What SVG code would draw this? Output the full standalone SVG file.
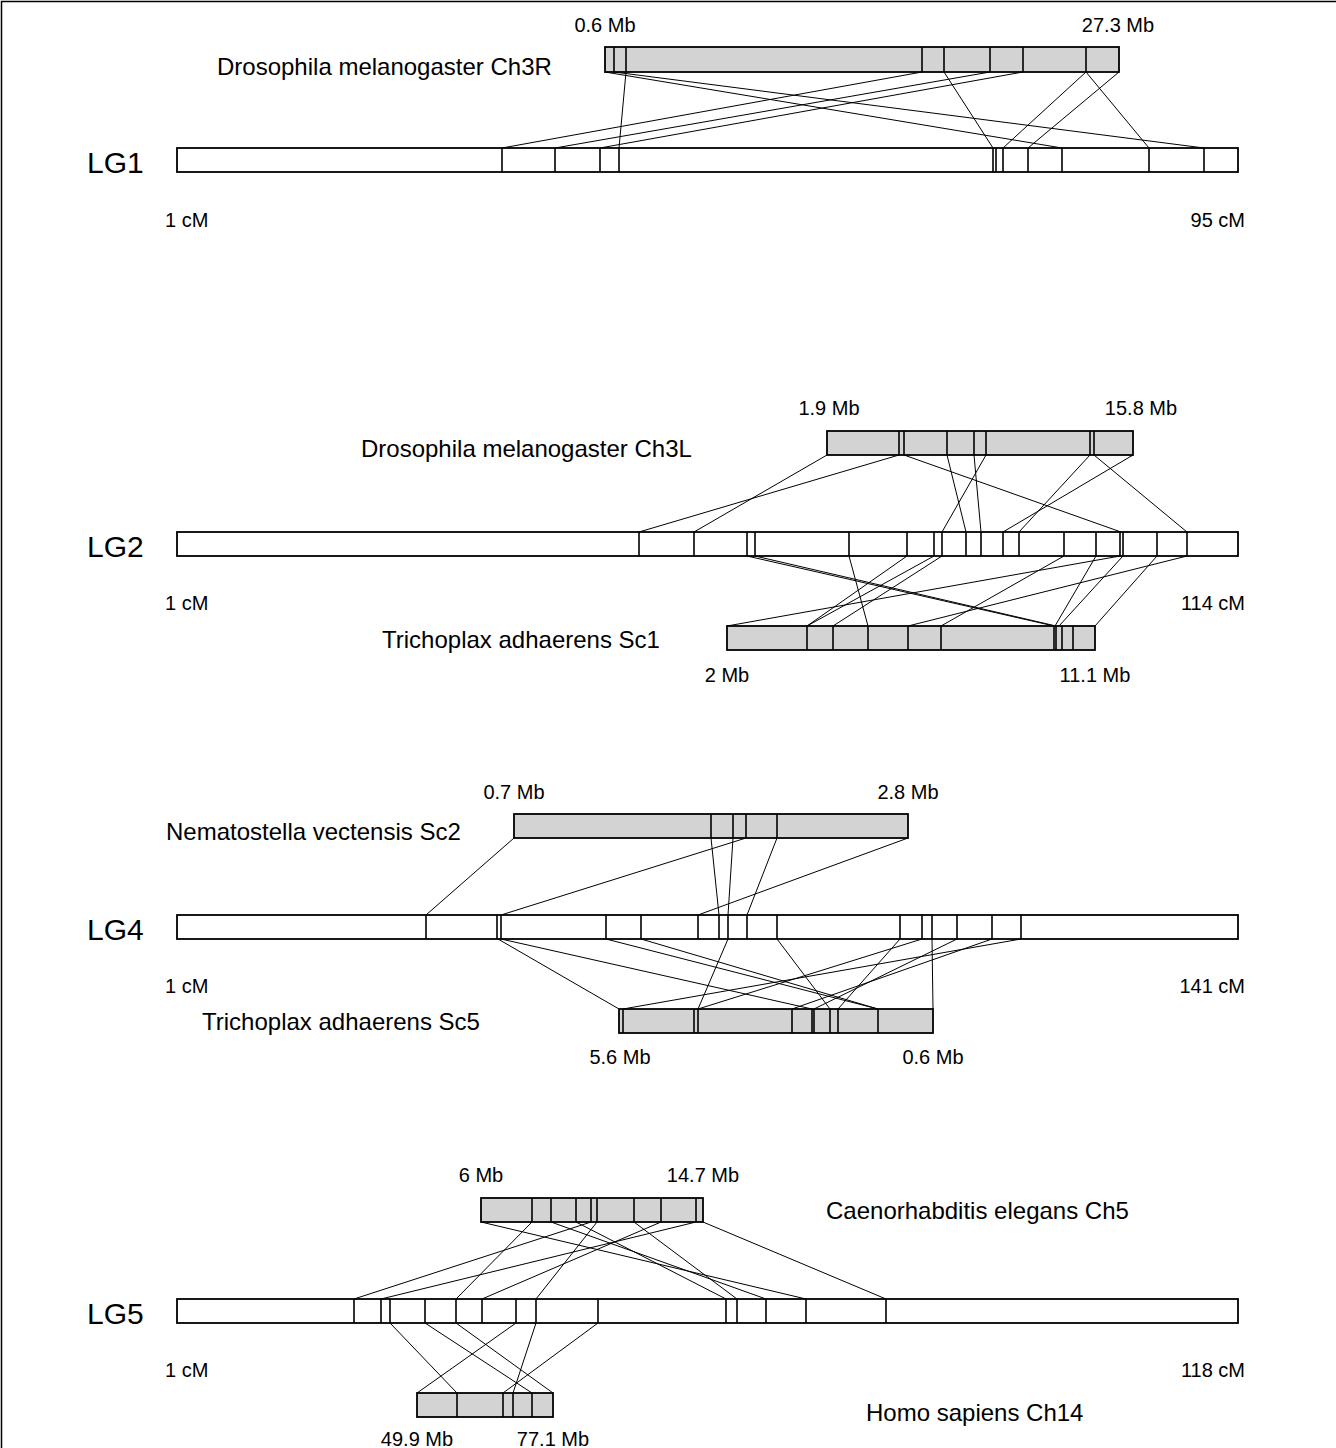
<svg xmlns="http://www.w3.org/2000/svg" width="1336" height="1448" viewBox="0 0 1336 1448">
<style>
.wb{fill:#fff;stroke:#000;stroke-width:1.8}
.gb{fill:#d3d3d3;stroke:#000;stroke-width:1.8}
.dv{stroke:#000;stroke-width:1.6;fill:none}
.cn{stroke:#000;stroke-width:1;fill:none}
.t{font-family:"Liberation Sans",Arial,sans-serif;fill:#000}
.sp{font-size:24px}
.mb{font-size:20px}
.lg{font-size:30px}
</style>
<rect x="0" y="0" width="1336" height="1448" fill="#fff"/>
<path d="M1.5,1448 V1.5 H1336" stroke="#000" stroke-width="1.5" fill="none"/>

<!-- LG1 section -->
<g id="ch3r">
<rect class="gb" x="605" y="47" width="514" height="25"/>
<path class="dv" d="M614,47V72M626,47V72M922,47V72M944,47V72M990,47V72M1023,47V72M1086,47V72"/>
<text class="t sp" x="217" y="75">Drosophila melanogaster Ch3R</text>
<text class="t mb" x="605" y="32" text-anchor="middle">0.6 Mb</text>
<text class="t mb" x="1118" y="32" text-anchor="middle">27.3 Mb</text>
</g>
<g id="lg1">
<rect class="wb" x="177" y="148" width="1061" height="24"/>
<path class="dv" d="M502,148V172M555,148V172M600,148V172M619,148V172M993,148V172M996,148V172M1003,148V172M1028,148V172M1062,148V172M1149,148V172M1204,148V172"/>
<text class="t lg" x="87" y="173">LG1</text>
<text class="t mb" x="165" y="227">1 cM</text>
<text class="t mb" x="1245" y="227" text-anchor="end">95 cM</text>
</g>

<!-- LG2 section -->
<g id="ch3l">
<rect class="gb" x="827" y="431" width="306" height="24"/>
<path class="dv" d="M899,431V455M904,431V455M947,431V455M974,431V455M986,431V455M1090,431V455M1094,431V455"/>
<text class="t sp" x="361" y="457">Drosophila melanogaster Ch3L</text>
<text class="t mb" x="829" y="415" text-anchor="middle">1.9 Mb</text>
<text class="t mb" x="1141" y="415" text-anchor="middle">15.8 Mb</text>
</g>
<g id="lg2">
<rect class="wb" x="177" y="532" width="1061" height="24"/>
<path class="dv" d="M639,532V556M694,532V556M747,532V556M755,532V556M849,532V556M907,532V556M934,532V556M942,532V556M966,532V556M981,532V556M1003,532V556M1019,532V556M1064,532V556M1096,532V556M1120,532V556M1123,532V556M1157,532V556M1187,532V556"/>
<text class="t lg" x="87" y="557">LG2</text>
<text class="t mb" x="165" y="610">1 cM</text>
<text class="t mb" x="1245" y="610" text-anchor="end">114 cM</text>
</g>
<g id="sc1">
<rect class="gb" x="727" y="626" width="368" height="24"/>
<path class="dv" d="M807,626V650M833,626V650M868,626V650M908,626V650M941,626V650M1054,626V650M1056,626V650M1062,626V650M1073,626V650"/>
<text class="t sp" x="382" y="648">Trichoplax adhaerens Sc1</text>
<text class="t mb" x="727" y="682" text-anchor="middle">2 Mb</text>
<text class="t mb" x="1095" y="682" text-anchor="middle">11.1 Mb</text>
</g>

<!-- LG4 section -->
<g id="sc2">
<rect class="gb" x="514" y="814" width="394" height="24"/>
<path class="dv" d="M711,814V838M733,814V838M746,814V838M777,814V838"/>
<text class="t sp" x="166" y="840">Nematostella vectensis Sc2</text>
<text class="t mb" x="514" y="799" text-anchor="middle">0.7 Mb</text>
<text class="t mb" x="908" y="799" text-anchor="middle">2.8 Mb</text>
</g>
<g id="lg4">
<rect class="wb" x="177" y="915" width="1061" height="24"/>
<path class="dv" d="M426,915V939M497,915V939M501,915V939M606,915V939M641,915V939M698,915V939M719,915V939M728,915V939M747,915V939M777,915V939M900,915V939M922,915V939M932,915V939M957,915V939M992,915V939M1021,915V939"/>
<text class="t lg" x="87" y="940">LG4</text>
<text class="t mb" x="165" y="993">1 cM</text>
<text class="t mb" x="1245" y="993" text-anchor="end">141 cM</text>
</g>
<g id="sc5">
<rect class="gb" x="619" y="1009" width="314" height="24"/>
<path class="dv" d="M623,1009V1033M694,1009V1033M698,1009V1033M792,1009V1033M812,1009V1033M814,1009V1033M830,1009V1033M838,1009V1033M878,1009V1033"/>
<text class="t sp" x="202" y="1030">Trichoplax adhaerens Sc5</text>
<text class="t mb" x="620" y="1064" text-anchor="middle">5.6 Mb</text>
<text class="t mb" x="933" y="1064" text-anchor="middle">0.6 Mb</text>
</g>

<!-- LG5 section -->
<g id="ch5">
<rect class="gb" x="481" y="1198" width="222" height="24"/>
<path class="dv" d="M532,1198V1222M551,1198V1222M576,1198V1222M591,1198V1222M597,1198V1222M634,1198V1222M661,1198V1222M696,1198V1222"/>
<text class="t sp" x="826" y="1219">Caenorhabditis elegans Ch5</text>
<text class="t mb" x="481" y="1182" text-anchor="middle">6 Mb</text>
<text class="t mb" x="703" y="1182" text-anchor="middle">14.7 Mb</text>
</g>
<g id="lg5">
<rect class="wb" x="177" y="1299" width="1061" height="24"/>
<path class="dv" d="M354,1299V1323M381,1299V1323M390,1299V1323M425,1299V1323M456,1299V1323M482,1299V1323M516,1299V1323M536,1299V1323M598,1299V1323M726,1299V1323M737,1299V1323M766,1299V1323M806,1299V1323M886,1299V1323"/>
<text class="t lg" x="87" y="1324">LG5</text>
<text class="t mb" x="165" y="1377">1 cM</text>
<text class="t mb" x="1245" y="1377" text-anchor="end">118 cM</text>
</g>
<g id="ch14">
<rect class="gb" x="417" y="1393" width="136" height="24"/>
<path class="dv" d="M457,1393V1417M503,1393V1417M513,1393V1417M532,1393V1417"/>
<text class="t sp" x="866" y="1421">Homo sapiens Ch14</text>
<text class="t mb" x="417" y="1446" text-anchor="middle">49.9 Mb</text>
<text class="t mb" x="553" y="1446" text-anchor="middle">77.1 Mb</text>
</g>

<g id="connectors" class="cn">
<!-- Ch3R - LG1 -->
<path class="cn" d="M626,72L619,148M605,72L1062,148M614,72L1204,148M922,72L502,148M990,72L555,148M1023,72L600,148M944,72L993,148M1086,72L1003,148M1119,72L1028,148M1086,72L1149,148"/>
<!-- Ch3L - LG2 -->
<path class="cn" d="M827,455L694,532M899,455L639,532M904,455L1121,532M947,455L966,532M974,455L981,532M986,455L942,532M1090,455L1019,532M1133,455L1003,532M1094,455L1187,532"/>
<!-- LG2 - Sc1 -->
<path class="cn" d="M747,556L1054,626M755,556L1056,626M849,556L868,626M907,556L807,626M934,556L807,626M942,556L833,626M1064,556L941,626M1096,556L1055,626M1123,556L1059,626M1120,556L727,626M1187,556L908,626M1157,556L1095,626"/>
<!-- Sc2 - LG4 -->
<path class="cn" d="M514,838L426,915M746,838L501,915M711,838L719,915M733,838L728,915M777,838L747,915M908,838L698,915"/>
<!-- LG4 - Sc5 -->
<path class="cn" d="M498,939L619,1009M501,939L812,1009M606,939L878,1009M641,939L878,1009M728,939L698,1009M777,939L830,1009M900,939L838,1009M922,939L698,1009M932,939L933,1009M957,939L814,1009M992,939L792,1009M1021,939L623,1009"/>
<!-- Ch5 - LG5 -->
<path class="cn" d="M481,1222L806,1299M532,1222L456,1299M551,1222L766,1299M576,1222L726,1299M591,1222L354,1299M597,1222L536,1299M634,1222L737,1299M661,1222L482,1299M696,1222L381,1299M703,1222L886,1299"/>
<!-- LG5 - Ch14 -->
<path class="cn" d="M390,1323L457,1393M425,1323L532,1393M456,1323L553,1393M516,1323L417,1393M536,1323L513,1393M598,1323L503,1393"/>
</g>
</svg>
